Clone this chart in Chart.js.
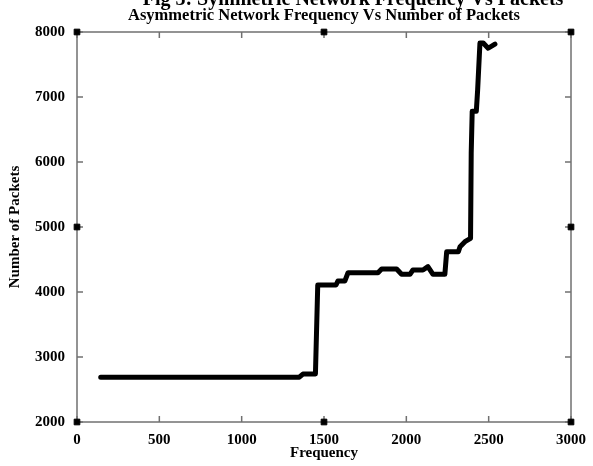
<!DOCTYPE html>
<html>
<head>
<meta charset="utf-8">
<script src="https://cdn.jsdelivr.net/npm/chart.js@4.4.0/dist/chart.umd.min.js"></script>
<style>
    html, body { margin: 0; padding: 0; background: #fff; }
    #wrap { width: 593px; height: 466px; }
</style>
</head>
<body>
<div id="wrap"><canvas id="myChart" width="593" height="466"></canvas></div>
<script>
// Data
const frequency = [144, 1350, 1372, 1448, 1462, 1573, 1585, 1627, 1646, 1828, 1850, 1941, 1971, 2022, 2040, 2101, 2131, 2162, 2234, 2245, 2316, 2326, 2356, 2390, 2394, 2400, 2425, 2433, 2447, 2467, 2497, 2538];
const packets = [2690, 2690, 2738, 2738, 4108, 4108, 4170, 4170, 4297, 4297, 4354, 4354, 4272, 4272, 4338, 4338, 4390, 4272, 4272, 4620, 4620, 4697, 4774, 4826, 6134, 6780, 6780, 7108, 7830, 7830, 7750, 7815];
// square markers on the frame
const markerX = [0, 1500, 3000, 0, 1500, 3000, 0, 3000];
const markerY = [2000, 2000, 2000, 8000, 8000, 8000, 5000, 5000];
const xTicks = [0, 500, 1000, 1500, 2000, 2500, 3000];
const yTicks = [2000, 3000, 4000, 5000, 6000, 7000, 8000];

const serif = '"Liberation Serif", "Times New Roman", serif';
const frameColor = '#707070';

// Frame, inward ticks and the titles
const framePlugin = {
    id: 'frame',
    beforeDatasetsDraw(chart) {
        const ctx = chart.ctx;
        const a = chart.chartArea;
        const xs = chart.scales.x, ys = chart.scales.y;
        ctx.save();
        ctx.strokeStyle = frameColor;
        ctx.lineWidth = 1.5;
        ctx.strokeRect(a.left, a.top, a.right - a.left, a.bottom - a.top);
        ctx.beginPath();
        xTicks.forEach(function(v) {
            const px = xs.getPixelForValue(v);
            ctx.moveTo(px, a.bottom); ctx.lineTo(px, a.bottom - 6);
            ctx.moveTo(px, a.top); ctx.lineTo(px, a.top + 6);
        });
        yTicks.forEach(function(v) {
            const py = ys.getPixelForValue(v);
            ctx.moveTo(a.left, py); ctx.lineTo(a.left + 6, py);
            ctx.moveTo(a.right, py); ctx.lineTo(a.right - 6, py);
        });
        ctx.stroke();
        ctx.restore();
    },
    afterDraw(chart) {
        const ctx = chart.ctx;
        ctx.save();
        ctx.fillStyle = '#000';
        ctx.textAlign = 'center';
        ctx.textBaseline = 'alphabetic';
        ctx.font = 'bold 20px ' + serif;
        ctx.fillText('Fig 3: Symmetric Network Frequency Vs Packets', 353, 5);
        ctx.font = 'bold 16.5px ' + serif;
        ctx.fillText('Asymmetric Network Frequency Vs Number of Packets', 324, 20);
        ctx.restore();
    }
};

function plainLabel(value) {
    return String(value);
}

const ctxLine = document.getElementById('myChart').getContext('2d');
const myChart = new Chart(ctxLine, {
    type: 'scatter',
    data: {
        datasets: [{
            label: 'Packets',
            data: frequency.map(function(f, i) { return { x: f, y: packets[i] }; }),
            showLine: true,
            borderColor: '#000',
            borderWidth: 5,
            pointRadius: 0,
            tension: 0,
            borderJoinStyle: 'round',
            borderCapStyle: 'round'
        }, {
            label: 'Markers',
            data: markerX.map(function(x, i) { return { x: x, y: markerY[i] }; }),
            showLine: false,
            pointStyle: 'rect',
            pointRadius: 4,
            backgroundColor: '#000',
            borderColor: '#000',
            borderWidth: 1,
            clip: false
        }]
    },
    options: {
        responsive: false,
        animation: false,
        layout: { padding: { top: 32, right: 22, left: 0, bottom: 0 } },
        plugins: {
            legend: { display: false },
            tooltip: { enabled: false }
        },
        scales: {
            x: {
                type: 'linear',
                min: 0,
                max: 3000,
                afterFit: function(scale) { scale.height = 44; },
                afterBuildTicks: function(scale) { scale.ticks = xTicks.map(function(v) { return { value: v }; }); },
                grid: { display: false },
                border: { display: false },
                ticks: { color: '#000', padding: 1, callback: plainLabel, font: { family: serif, size: 15, weight: 'bold' } },
                title: { display: true, text: 'Frequency', color: '#000', padding: { top: 3 }, font: { family: serif, size: 15, weight: 'bold' } }
            },
            y: {
                type: 'linear',
                min: 2000,
                max: 8000,
                afterFit: function(scale) { scale.width = 77; },
                afterBuildTicks: function(scale) { scale.ticks = yTicks.map(function(v) { return { value: v }; }); },
                grid: { display: false },
                border: { display: false },
                ticks: { color: '#000', padding: 4, callback: plainLabel, font: { family: serif, size: 15, weight: 'bold' } },
                title: { display: true, text: 'Number of Packets', color: '#000', padding: { top: 6 }, font: { family: serif, size: 15, weight: 'bold' } }
            }
        }
    },
    plugins: [framePlugin]
});
</script>
</body>
</html>
